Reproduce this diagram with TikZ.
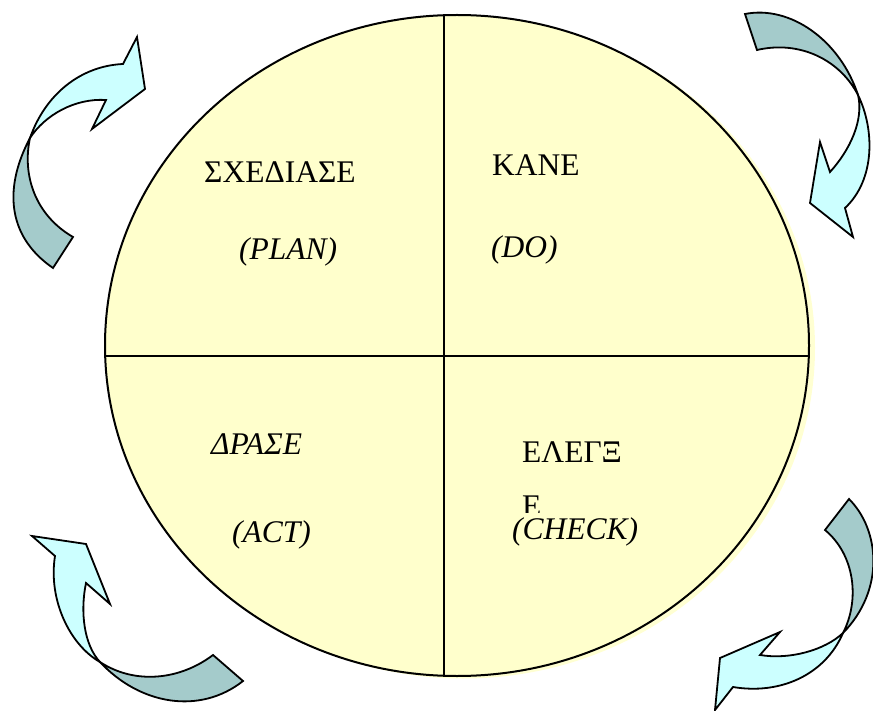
\documentclass[tikz,border=0pt]{standalone}
\usepackage{fontspec}
\setmainfont{Liberation Serif}
\definecolor{pdcaYellow}{HTML}{FFFFCC}
\definecolor{pdcaShadow}{HTML}{FFFFD2}
\definecolor{arrLight}{HTML}{CCFFFF}
\definecolor{arrDark}{HTML}{A4CBCB}
\tikzset{
  lightpart/.style={fill=arrLight, draw=black, line width=1.8pt, line join=miter},
  darkpart/.style={fill=arrDark, draw=black, line width=1.8pt, line join=miter},
  label/.style={inner sep=0pt, anchor=base west, font=\fontsize{31.5}{37}\selectfont},
  divider/.style={draw=black, line width=1.4pt}
}
\begin{document}
\begin{tikzpicture}[x=1pt,y=-1pt]
\useasboundingbox (0,0) rectangle (873,711);
% circle with shadow
\coordinate (c) at (457,345.5);
\fill[pdcaShadow] ([xshift=6pt,yshift=-2.5pt]c) ellipse [x radius=352, y radius=330.5];
\fill[pdcaYellow] (c) ellipse [x radius=352, y radius=330.5];
\coordinate (top) at (444,15.5);
\coordinate (bot) at (444,676);
\coordinate (lft) at (105,356);
\coordinate (rgt) at (808.5,356);
\draw[divider] (top) -- (bot);
\draw[divider] (lft) -- (rgt);
\draw[line width=2pt] (c) ellipse [x radius=352, y radius=330.5];
% texts
\node[label] (t1) at (204,183) {ΣΧΕΔΙΑΣΕ};
\node[label] (t2) at (239,260) {\itshape (PLAN)};
\node[label] (t3) at (492,176) {ΚΑΝΕ};
\node[label] (t4) at (491,258) {\itshape (DO)};
\node[label] (t5) at (211,454) {\itshape ΔΡΑΣΕ};
\node[label] (t6) at (232,542) {\itshape (ACT)};
\node[label] (t7) at (522,462) {ΕΛΕΓΞ};
\begin{scope}
\clip (500,480) rectangle (570,512.5);
\node[label] (t8) at (522,516) {Ε};
\end{scope}
\node[label] (t9) at (512,539) {\itshape (CHECK)};
% top-left arrow
\draw[darkpart] (30,138) .. controls (5,185) and (5,235) .. (53,268) -- (73,237) .. controls (35,215) and (22,175) .. (30,138) -- cycle;
\draw[lightpart] (30,138) .. controls (45,95) and (80,66) .. (123,64) -- (137,37) -- (145,89) -- (92,129) -- (106,100) .. controls (75,98) and (45,115) .. (30,138) -- cycle;
% top-right arrow
\draw[darkpart] (745,14) .. controls (790,5) and (840,40) .. (858,95) .. controls (840,60) and (800,40) .. (757,50) -- cycle;
\draw[lightpart] (858,95) .. controls (875,130) and (875,180) .. (845,208) -- (853,237) -- (810,203) -- (820,142) -- (830,172) .. controls (850,150) and (864,120) .. (858,95) -- cycle;
% bottom-left arrow
\draw[darkpart] (100,662) .. controls (135,685) and (180,680) .. (213,655) -- (243,681) .. controls (200,715) and (140,705) .. (100,662) -- cycle;
\draw[lightpart] (100,662) .. controls (70,645) and (48,600) .. (55,556) -- (32,536) -- (86,544) -- (110,604) -- (86,583) .. controls (80,612) and (84,645) .. (100,662) -- cycle;
% bottom-right arrow
\draw[darkpart] (849,499) .. controls (880,530) and (885,590) .. (843,633) .. controls (860,600) and (855,555) .. (825,530) -- cycle;
\draw[lightpart] (843,633) .. controls (825,650) and (790,660) .. (760,655) -- (780,632) -- (720,658) -- (715,710) -- (733,687) .. controls (780,695) and (825,675) .. (843,633) -- cycle;
\end{tikzpicture}
\end{document}
